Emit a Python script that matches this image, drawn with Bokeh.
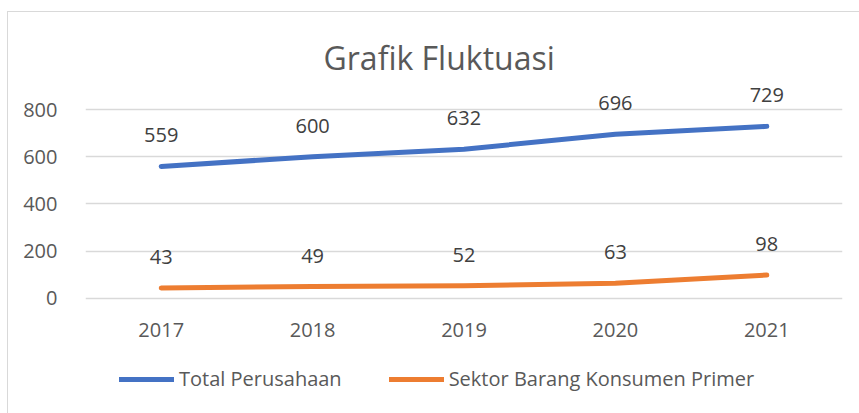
from bokeh.plotting import figure
from bokeh.models import FactorRange, Range1d, FixedTicker, Legend, LegendItem, ColumnDataSource
from bokeh.embed import file_html
from bokeh.resources import INLINE

# ---- data ----
years = ["2017", "2018", "2019", "2020", "2021"]
total_perusahaan = [559, 600, 632, 696, 729]
sektor_barang = [43, 49, 52, 63, 98]
y_ticks = [0, 200, 400, 600, 800]
series_names = ["Total Perusahaan", "Sektor Barang Konsumen Primer"]
title_text = "Grafik Fluktuasi"

FONT = "Open Sans"
BLUE = "#4472C4"
ORANGE = "#ED7D31"
GREY_TXT = "#595959"
LBL_TXT = "#404040"
GRID = "#D9D9D9"

src = ColumnDataSource(dict(
    year=years,
    total=total_perusahaan,
    sektor=sektor_barang,
    total_lbl=[str(v) for v in total_perusahaan],
    sektor_lbl=[str(v) for v in sektor_barang],
))

p = figure(
    width=852, height=402,
    x_range=FactorRange(*years, range_padding=0),
    y_range=Range1d(-494, 911),
    output_backend="svg", toolbar_location=None,
    min_border_left=77, min_border_right=18,
    min_border_top=71, min_border_bottom=0,
)
p.margin = (11, 0, 0, 7)
p.styles = {"border-left": "1px solid #D9D9D9", "border-top": "1px solid #D9D9D9"}
p.outline_line_color = None
p.background_fill_color = "white"
p.border_fill_color = "white"

p.title.text = title_text
p.title.align = "left"
p.title.offset = 238
p.title.text_font = FONT
p.title.text_font_size = "32px"
p.title.text_font_style = "normal"
p.title.text_color = GREY_TXT
p.title.standoff = 9

r1 = p.line("year", "total", source=src, color=BLUE, line_width=5, line_cap="round", line_join="round")
r2 = p.line("year", "sektor", source=src, color=ORANGE, line_width=5, line_cap="round", line_join="round")

for col in ["total", "sektor"]:
    p.text("year", col, text=col + "_lbl", source=src, text_align="center", text_baseline="middle",
           y_offset=-31, text_font_size="20px", text_color=LBL_TXT,
           text_font={"value": FONT})

# axes
p.yaxis.ticker = FixedTicker(ticks=y_ticks)
p.yaxis.axis_line_color = None
p.yaxis.major_tick_line_color = None
p.yaxis.minor_tick_line_color = None
p.yaxis.major_label_standoff = 22
p.yaxis.major_label_text_font = FONT
p.yaxis.major_label_text_font_size = "20px"
p.yaxis.major_label_text_color = GREY_TXT

p.xaxis.fixed_location = 0
p.xaxis.axis_line_color = None
p.xaxis.major_tick_line_color = None
p.xaxis.minor_tick_line_color = None
p.xaxis.major_label_standoff = 19
p.xaxis.major_label_text_font = FONT
p.xaxis.major_label_text_font_size = "20px"
p.xaxis.major_label_text_color = GREY_TXT

p.xgrid.grid_line_color = None
p.ygrid.grid_line_color = GRID
p.ygrid.grid_line_width = 1.5
p.ygrid.ticker = FixedTicker(ticks=y_ticks)

legend = Legend(
    items=[LegendItem(label=series_names[0], renderers=[r1]),
           LegendItem(label=series_names[1], renderers=[r2])],
    orientation="horizontal",
    location=(34, 22),
    padding=0, margin=0, spacing=47,
    glyph_width=55, glyph_height=20, label_height=20,
    label_standoff=5,
    label_text_font=FONT, label_text_font_size="20px", label_text_color=GREY_TXT,
    border_line_color=None, background_fill_alpha=0,
)
p.add_layout(legend, "center")

open("out.html", "w").write(file_html(p, INLINE))
